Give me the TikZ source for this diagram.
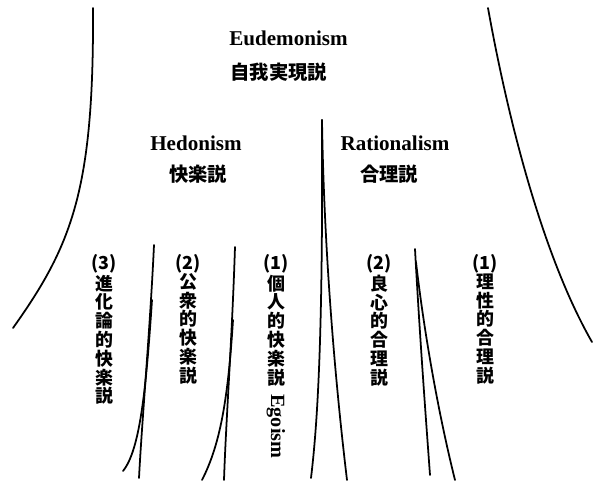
\documentclass[tikz,border=0pt]{standalone}
\usepackage{fontspec}
\setmainfont{Liberation Serif}
\newfontfamily\jpfont{Noto Sans CJK JP}
\usepackage{tikz}
\usetikzlibrary{positioning}

\begin{document}
\begin{tikzpicture}[x=0.02cm, y=-0.02cm,
  en/.style={font=\bfseries\fontsize{12}{14}\selectfont, inner sep=0pt},
  ja/.style={font=\jpfont\bfseries\fontsize{11}{12}\selectfont, inner sep=0pt},
  tate/.style={font=\jpfont\bfseries\fontsize{10.2}{10.7}\selectfont, align=center, inner sep=0pt, anchor=north},
  stem/.style={line width=1pt, line cap=round}]
\useasboundingbox (0,0) rectangle (600,484);
% headings
\node[en, anchor=west] (eud) at (229,38) {Eudemonism};
\node[ja, anchor=west] (eudja) at (230,72) {自我実現説};
\node[en] (hed) at (196,143) {Hedonism};
\node[ja] (hedja) at (198,174) {快楽説};
\node[en] (rat) at (395,143) {Rationalism};
\node[ja] (ratja) at (389,174) {合理説};
% vertical columns
\node[tate] (hthree) at (104,254) {(3)\\進\\化\\論\\的\\快\\楽\\説};
\node[tate] (htwo) at (188,254) {(2)\\公\\衆\\的\\快\\楽\\説};
\node[tate] (hone) at (276,254) {(1)\\個\\人\\的\\快\\楽\\説};
\node[en, font=\bfseries\fontsize{11.5}{12}\selectfont, rotate=-90, anchor=west] (ego) at (276,394) {Egoism};
\node[tate] (rtwo) at (379,254) {(2)\\良\\心\\的\\合\\理\\説};
\node[tate] (rone) at (485,254) {(1)\\理\\性\\的\\合\\理\\説};
% outer curves
\draw[stem] (93,8) .. controls (94,190) and (72,245) .. (13,328);
\draw[stem] (488,8) .. controls (510,130) and (545,260) .. (592,342);
% central spike
\draw[stem] (322,120) .. controls (323,330) and (318,420) .. (311,478);
\draw[stem] (322,120) .. controls (324,250) and (335,380) .. (347,480);
% branches
\draw[stem] (154,245) .. controls (150,330) and (142,420) .. (139,478);
\draw[stem] (152,300) .. controls (146,390) and (140,450) .. (123,471);
\draw[stem] (235,247) .. controls (232,340) and (226,420) .. (224,480);
\draw[stem] (233,320) .. controls (228,400) and (220,445) .. (202,480);
\draw[stem] (415,249) .. controls (420,340) and (426,420) .. (430,475);
\draw[stem] (416,262) .. controls (425,340) and (440,420) .. (455,480);
\end{tikzpicture}
\end{document}
